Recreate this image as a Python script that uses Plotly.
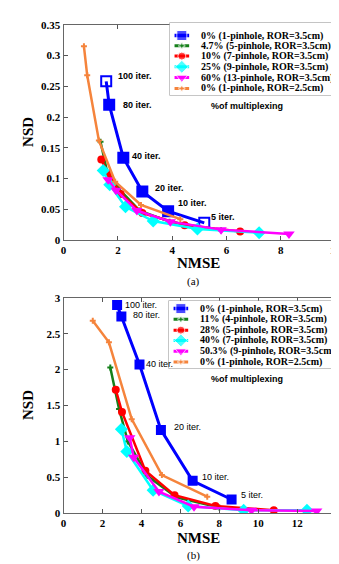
import plotly.graph_objects as go

W, H = 339, 564

# ---------------- data: panel (a) ----------------
A_BLUE_X = [1.57, 1.68, 2.2, 2.9, 3.85, 5.18]
A_BLUE_Y = [0.258, 0.220, 0.134, 0.079, 0.047, 0.028]
A_GREEN_X = [1.36, 1.6, 2.0, 2.8, 3.9, 5.8]
A_GREEN_Y = [0.160, 0.112, 0.085, 0.048, 0.030, 0.016]
A_RED_X = [1.39, 1.64, 2.1, 2.9, 4.46, 6.5]
A_RED_Y = [0.131, 0.108, 0.075, 0.044, 0.024, 0.014]
A_CYAN_X = [1.46, 1.7, 2.28, 3.3, 4.93, 7.2]
A_CYAN_Y = [0.113, 0.090, 0.054, 0.031, 0.018, 0.012]
A_MAG_X = [1.64, 1.93, 2.7, 3.93, 5.8, 8.3]
A_MAG_Y = [0.098, 0.081, 0.048, 0.030, 0.017, 0.010]
A_ORANGE_X = [0.75, 0.87, 1.3, 1.9, 2.85, 4.3]
A_ORANGE_Y = [0.315, 0.268, 0.162, 0.095, 0.057, 0.034]
A_LEGEND = ["0% (1-pinhole, ROR=3.5cm)", "4.7% (5-pinhole, ROR=3.5cm)",
            "10% (7-pinhole, ROR=3.5cm)", "25% (9-pinhole, ROR=3.5cm)",
            "60% (13-pinhole, ROR=3.5cm)", "0% (1-pinhole, ROR=2.5cm)"]

# ---------------- data: panel (b) ----------------
B_BLUE_X = [2.75, 2.97, 3.9, 5.0, 6.63, 8.63]
B_BLUE_Y = [2.90, 2.74, 2.07, 1.16, 0.45, 0.19]
B_GREEN_X = [2.4, 2.85, 3.3, 4.3, 5.8, 8.0]
B_GREEN_Y = [2.03, 1.45, 1.0, 0.52, 0.22, 0.08]
B_RED_X = [2.68, 3.0, 4.2, 5.7, 7.8, 10.8]
B_RED_Y = [1.72, 1.41, 0.59, 0.25, 0.10, 0.04]
B_CYAN_X = [2.97, 3.25, 4.6, 6.4, 9.25, 12.5]
B_CYAN_Y = [1.17, 0.86, 0.32, 0.10, 0.04, 0.04]
B_MAG_X = [3.4, 3.6, 4.9, 6.7, 9.65, 13.0]
B_MAG_Y = [1.05, 0.78, 0.30, 0.09, 0.04, 0.03]
B_ORANGE_X = [1.5, 2.33, 3.5, 5.05, 7.38]
B_ORANGE_Y = [2.68, 2.38, 1.31, 0.53, 0.23]
B_LEGEND = ["0% (1-pinhole, ROR=3.5cm)", "11% (4-pinhole, ROR=3.5cm)",
            "28% (5-pinhole, ROR=3.5cm)", "40% (7-pinhole, ROR=3.5cm)",
            "50.3% (9-pinhole, ROR=3.5cm)", "0% (1-pinhole, ROR=2.5cm)"]

ITER_LABELS = ["100 iter.", "80 iter.", "40 iter.", "20 iter.", "10 iter.", "5 iter."]

A_XTICKS = [0, 2, 4, 6, 8, 10]
A_YTICKS = [0, 0.05, 0.1, 0.15, 0.2, 0.25, 0.3, 0.35]
B_XTICKS = [0, 2, 4, 6, 8, 10, 12, 14]
B_YTICKS = [0, 0.5, 1, 1.5, 2, 2.5, 3]

# ---------------- styles ----------------
BLUE, GREEN, RED, CYAN, MAG, ORANGE = "#0000FF", "#15801A", "#FF0000", "#00FFFF", "#FF00FF", "#F5843C"
STY = [
    dict(color=BLUE, width=3, symbol="square", size=10),
    dict(color=GREEN, width=2.5, symbol="cross", size=5),
    dict(color=RED, width=2.5, symbol="circle", size=8),
    dict(color=CYAN, width=2.5, symbol="diamond", size=10),
    dict(color=MAG, width=2.5, symbol="triangle-down", size=10),
    dict(color=ORANGE, width=2.5, symbol="cross", size=5),
]

fig = go.Figure()

def add_series(xs, ys, st, xa, ya, symbols=None):
    fig.add_trace(go.Scatter(
        x=xs, y=ys, mode="lines+markers", xaxis=xa, yaxis=ya, showlegend=False,
        line=dict(color=st["color"], width=st["width"]),
        marker=dict(color=st["color"], size=st["size"],
                    symbol=symbols if symbols else st["symbol"],
                    line=dict(width=2 if symbols else 0, color=st["color"])),
        hoverinfo="skip"))

A_SERIES = [(A_BLUE_X, A_BLUE_Y), (A_GREEN_X, A_GREEN_Y), (A_RED_X, A_RED_Y),
            (A_CYAN_X, A_CYAN_Y), (A_MAG_X, A_MAG_Y), (A_ORANGE_X, A_ORANGE_Y)]
B_SERIES = [(B_BLUE_X, B_BLUE_Y), (B_GREEN_X, B_GREEN_Y), (B_RED_X, B_RED_Y),
            (B_CYAN_X, B_CYAN_Y), (B_MAG_X, B_MAG_Y), (B_ORANGE_X, B_ORANGE_Y)]

for i, (xs, ys) in enumerate(A_SERIES):
    sym = None
    if i == 0:
        sym = ["square-open", "square", "square", "square", "square", "square-open"]
    add_series(xs, ys, STY[i], "x", "y", sym)
for i, (xs, ys) in enumerate(B_SERIES):
    add_series(xs, ys, STY[i], "x2", "y2")

# ---------------- layout helpers ----------------
def px_x(p):
    return p / W

def px_y(p):
    return 1 - p / H

TICKFONT = dict(family="Liberation Serif", size=11, color="black", weight="bold")
AXCOMMON = dict(showgrid=False, zeroline=False, ticks="inside", ticklen=4, tickwidth=1,
                tickcolor="#555", showline=True, linecolor="#666", linewidth=1,
                mirror="ticks", tickfont=TICKFONT)

fig.update_layout(
    width=W, height=H, margin=dict(l=0, r=0, t=0, b=0),
    paper_bgcolor="white", plot_bgcolor="white",
    xaxis=dict(domain=[px_x(54), px_x(333)], range=[0, 10], tickvals=A_XTICKS,
               ticktext=[str(v) for v in A_XTICKS], anchor="y", **AXCOMMON),
    yaxis=dict(domain=[px_y(231), px_y(11)], range=[0, 0.35], tickvals=A_YTICKS,
               ticktext=["0", "0.05", "0.1", "0.15", "0.2", "0.25", "0.3", "0.35"],
               anchor="x", **AXCOMMON),
    xaxis2=dict(domain=[px_x(54), px_x(334)], range=[0, 14], tickvals=B_XTICKS,
                ticktext=[str(v) for v in B_XTICKS], anchor="y2", **AXCOMMON),
    yaxis2=dict(domain=[px_y(510), px_y(290)], range=[0, 3], tickvals=B_YTICKS,
                ticktext=["0", "0.5", "1", "1.5", "2", "2.5", "3"], anchor="x2", **AXCOMMON),
    # overlay axes for the hand-drawn legends, in pixel units
    xaxis3=dict(domain=[px_x(163), px_x(333)], range=[163, 333], visible=False, anchor="y3"),
    yaxis3=dict(domain=[px_y(83), px_y(9)], range=[83, 9], visible=False, anchor="x3"),
    xaxis4=dict(domain=[px_x(162), px_x(333)], range=[162, 333], visible=False, anchor="y4"),
    yaxis4=dict(domain=[px_y(362), px_y(293)], range=[362, 293], visible=False, anchor="x4"),
)

shapes = []
annotations = []

def legend(box, rows, labels, xa, ya):
    x0, y0, x1, y1 = box
    shapes.append(dict(type="rect", xref="paper", yref="paper",
                       x0=px_x(x0), x1=px_x(x1), y0=px_y(y1), y1=px_y(y0),
                       line=dict(color="#999", width=1), fillcolor="white", layer="below"))
    for i, (r, lab) in enumerate(zip(rows, labels)):
        st = STY[i]
        fig.add_trace(go.Scatter(
            x=[x0 + 5, x0 + 12.5, x0 + 20], y=[r, r, r], mode="lines+markers",
            xaxis=xa, yaxis=ya, showlegend=False, hoverinfo="skip",
            line=dict(color=st["color"], width=st["width"] + 0.5),
            marker=dict(color=st["color"], size=[0, st["size"], 0], symbol=st["symbol"])))
        annotations.append(dict(x=x0 + 30, y=r, xref=xa, yref=ya, text=lab, showarrow=False,
                                xanchor="left", yanchor="middle",
                                font=dict(family="Liberation Serif", size=10, color="black",
                                          weight="bold")))

legend((163, 9, 333, 83), [22, 32.5, 43, 54, 65, 76], A_LEGEND, "x3", "y3")
legend((162, 293, 333, 362), [301, 312, 323, 333.5, 344.5, 355.5], B_LEGEND, "x4", "y4")

# iteration labels next to the blue curve
A_SHIFTS = [(10, 5), (12, 0), (7, 2), (11, 3), (8, 8), (5, 6)]
B_SHIFTS = [(6, 0), (10, 1), (5, 1), (11, 3), (7, 4), (7, 5)]
for i, lab in enumerate(ITER_LABELS):
    annotations.append(dict(x=A_BLUE_X[i], y=A_BLUE_Y[i], xref="x", yref="y", text=lab,
                            showarrow=False, xanchor="left", yanchor="middle",
                            xshift=A_SHIFTS[i][0], yshift=A_SHIFTS[i][1],
                            font=dict(family="Liberation Sans", size=9, color="black",
                                      weight="bold")))
    annotations.append(dict(x=B_BLUE_X[i], y=B_BLUE_Y[i], xref="x2", yref="y2", text=lab,
                            showarrow=False, xanchor="left", yanchor="middle",
                            xshift=B_SHIFTS[i][0], yshift=B_SHIFTS[i][1],
                            font=dict(family="Liberation Sans", size=9, color="black")))

# other texts
def ptext(x, y, text, font, angle=0):
    annotations.append(dict(x=px_x(x), y=px_y(y), xref="paper", yref="paper", text=text,
                            showarrow=False, xanchor="center", yanchor="middle",
                            textangle=angle, font=font))

MUX = dict(family="Liberation Sans", size=9, color="black", weight="bold")
TITLE = dict(family="Liberation Serif", size=15, color="black", weight="bold")
CAP = dict(family="Liberation Serif", size=11, color="black")
ptext(242, 94, "%of multiplexing", MUX)
ptext(242, 373, "%of multiplexing", MUX)
ptext(193, 254, "NMSE", TITLE)
ptext(193, 535, "NMSE", TITLE)
ptext(18, 121, "NSD", TITLE, -90)
ptext(18, 400, "NSD", TITLE, -90)
ptext(187, 273, "(a)", CAP)
ptext(187, 553, "(b)", CAP)

fig.update_layout(shapes=shapes, annotations=annotations)
fig.write_html("out.html")
